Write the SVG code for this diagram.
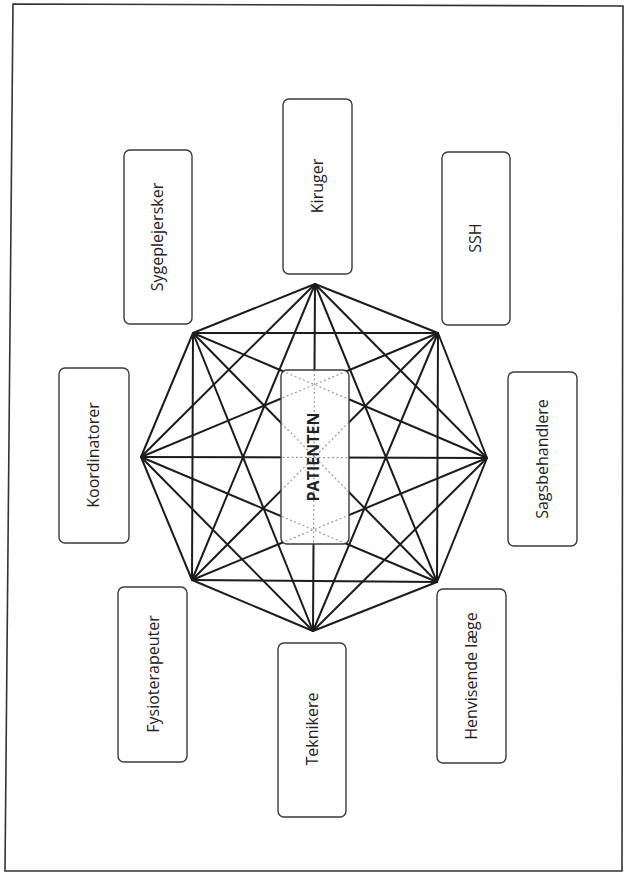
<svg xmlns="http://www.w3.org/2000/svg" xmlns:xlink="http://www.w3.org/1999/xlink" width="624" height="874" viewBox="0 0 624 874">
<style>
.box{fill:#fff;stroke:#3a3a3a;stroke-width:1.4}
.lbl{font-family:"Open Sans","Noto Sans","Liberation Sans",sans-serif;font-size:16px;fill:#222;text-anchor:middle;dominant-baseline:central}
.bold{font-weight:bold}
</style>
<defs>
<clipPath id="pclip"><rect x="282" y="371" width="66" height="172" rx="5"/></clipPath>
</defs>
<rect width="624" height="874" fill="#fff"/>
<path d="M13,4 L623,6 L622,871 L5,871 Z" fill="none" stroke="#333" stroke-width="1.6"/>
<g id="connectors" stroke="#1c1c1c" stroke-width="2" stroke-linecap="round" fill="none">
<g id="edges">
<line x1="315" y1="284" x2="438" y2="333"/>
<line x1="315" y1="284" x2="487" y2="458"/>
<line x1="315" y1="284" x2="437" y2="582"/>
<line x1="315" y1="284" x2="313" y2="631"/>
<line x1="315" y1="284" x2="192" y2="580"/>
<line x1="315" y1="284" x2="141" y2="457"/>
<line x1="315" y1="284" x2="193" y2="333"/>
<line x1="438" y1="333" x2="487" y2="458"/>
<line x1="438" y1="333" x2="437" y2="582"/>
<line x1="438" y1="333" x2="313" y2="631"/>
<line x1="438" y1="333" x2="192" y2="580"/>
<line x1="438" y1="333" x2="141" y2="457"/>
<line x1="438" y1="333" x2="193" y2="333"/>
<line x1="487" y1="458" x2="437" y2="582"/>
<line x1="487" y1="458" x2="313" y2="631"/>
<line x1="487" y1="458" x2="192" y2="580"/>
<line x1="487" y1="458" x2="141" y2="457"/>
<line x1="487" y1="458" x2="193" y2="333"/>
<line x1="437" y1="582" x2="313" y2="631"/>
<line x1="437" y1="582" x2="192" y2="580"/>
<line x1="437" y1="582" x2="141" y2="457"/>
<line x1="437" y1="582" x2="193" y2="333"/>
<line x1="313" y1="631" x2="192" y2="580"/>
<line x1="313" y1="631" x2="141" y2="457"/>
<line x1="313" y1="631" x2="193" y2="333"/>
<line x1="192" y1="580" x2="141" y2="457"/>
<line x1="192" y1="580" x2="193" y2="333"/>
<line x1="141" y1="457" x2="193" y2="333"/>
</g>
</g>
<g id="patienten">
<rect class="box" x="281" y="370" width="68" height="174" rx="6" stroke="#555" stroke-width="1.2"/>
<use xlink:href="#edges" clip-path="url(#pclip)" stroke="#9a9a9a" stroke-width="1.2" stroke-dasharray="2 2.5" fill="none"/>
<text class="lbl bold" x="313" y="457" transform="rotate(-90 313 457)">PATIENTEN</text>
</g>
<g id="kiruger">
<rect class="box" x="283" y="99" width="69" height="175" rx="6"/>
<text class="lbl" x="317" y="186" transform="rotate(-90 317 186)">Kiruger</text>
</g>
<g id="sygeplejersker">
<rect class="box" x="124" y="150" width="68" height="174" rx="6"/>
<text class="lbl" x="157" y="237" transform="rotate(-90 157 237)">Sygeplejersker</text>
</g>
<g id="ssh">
<rect class="box" x="442" y="152" width="68" height="173" rx="6"/>
<text class="lbl" x="475" y="238" transform="rotate(-90 475 238)">SSH</text>
</g>
<g id="koordinatorer">
<rect class="box" x="59" y="368" width="70" height="175" rx="6"/>
<text class="lbl" x="93" y="455" transform="rotate(-90 93 455)">Koordinatorer</text>
</g>
<g id="sagsbehandlere">
<rect class="box" x="508" y="372" width="69" height="174" rx="6"/>
<text class="lbl" x="542" y="459" transform="rotate(-90 542 459)">Sagsbehandlere</text>
</g>
<g id="fysioterapeuter">
<rect class="box" x="118" y="587" width="69" height="175" rx="6"/>
<text class="lbl" x="153" y="674" transform="rotate(-90 153 674)">Fysioterapeuter</text>
</g>
<g id="teknikere">
<rect class="box" x="278" y="643" width="68" height="174" rx="6"/>
<text class="lbl" x="312" y="729" transform="rotate(-90 312 729)">Teknikere</text>
</g>
<g id="henvisende">
<rect class="box" x="437" y="589" width="69" height="174" rx="6"/>
<text class="lbl" x="471" y="676" transform="rotate(-90 471 676)">Henvisende læge</text>
</g>
</svg>
